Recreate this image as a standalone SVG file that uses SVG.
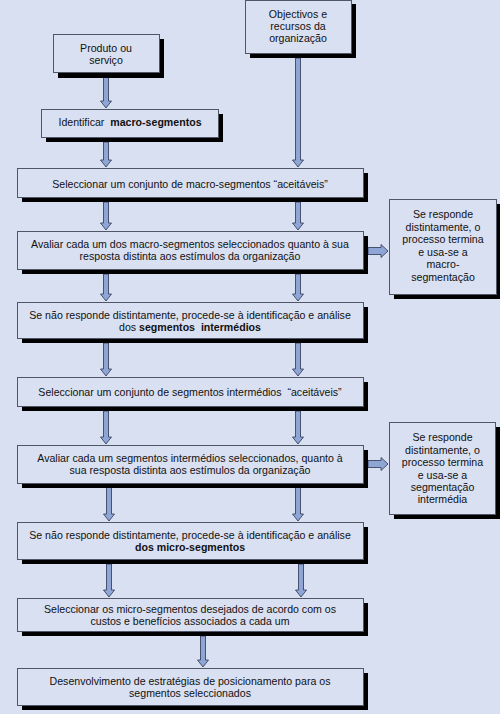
<svg xmlns="http://www.w3.org/2000/svg" width="500" height="714" viewBox="0 0 500 714">
<style>
.bg{fill:#D9E0F1}
.sh{fill:#000}
.bx{fill:#D9E0F1;stroke:#505666;stroke-width:1}
.t{font-family:"Liberation Sans",Arial,sans-serif;font-size:10.6px;fill:#111;text-anchor:middle;white-space:pre}
.b{font-weight:bold}
.ar{fill:#8FA5D5;stroke:#2B3550;stroke-width:0.8}
</style>
<rect class="bg" x="0" y="0" width="500" height="714"/>

<g id="connectors">
<path class="ar" d="M103.5,73 L108.5,73 L108.5,101 L111.5,101 L106,108 L100.5,101 L103.5,101 Z"/>
<path class="ar" d="M295.5,58 L300.5,58 L300.5,160 L303.5,160 L298,167 L292.5,160 L295.5,160 Z"/>
<path class="ar" d="M103.5,142 L108.5,142 L108.5,160 L111.5,160 L106,167 L100.5,160 L103.5,160 Z"/>
<path class="ar" d="M103.5,202 L108.5,202 L108.5,223 L111.5,223 L106,230 L100.5,223 L103.5,223 Z"/>
<path class="ar" d="M295.5,202 L300.5,202 L300.5,223 L303.5,223 L298,230 L292.5,223 L295.5,223 Z"/>
<path class="ar" d="M368,247.5 L381,247.5 L381,244.5 L388,251 L381,257.5 L381,254.5 L368,254.5 Z"/>
<path class="ar" d="M103.5,274 L108.5,274 L108.5,294 L111.5,294 L106,301 L100.5,294 L103.5,294 Z"/>
<path class="ar" d="M295.5,274 L300.5,274 L300.5,294 L303.5,294 L298,301 L292.5,294 L295.5,294 Z"/>
<path class="ar" d="M103.5,343 L108.5,343 L108.5,369 L111.5,369 L106,376 L100.5,369 L103.5,369 Z"/>
<path class="ar" d="M295.5,343 L300.5,343 L300.5,369 L303.5,369 L298,376 L292.5,369 L295.5,369 Z"/>
<path class="ar" d="M103.5,411 L108.5,411 L108.5,437 L111.5,437 L106,444 L100.5,437 L103.5,437 Z"/>
<path class="ar" d="M295.5,411 L300.5,411 L300.5,437 L303.5,437 L298,444 L292.5,437 L295.5,437 Z"/>
<path class="ar" d="M368,460.5 L381,460.5 L381,457.5 L388,464 L381,470.5 L381,467.5 L368,467.5 Z"/>
<path class="ar" d="M106.5,487 L111.5,487 L111.5,514 L114.5,514 L109,521 L103.5,514 L106.5,514 Z"/>
<path class="ar" d="M295.5,487 L300.5,487 L300.5,514 L303.5,514 L298,521 L292.5,514 L295.5,514 Z"/>
<path class="ar" d="M106.5,564 L111.5,564 L111.5,590 L114.5,590 L109,597 L103.5,590 L106.5,590 Z"/>
<path class="ar" d="M298.5,564 L303.5,564 L303.5,590 L306.5,590 L301,597 L295.5,590 L298.5,590 Z"/>
<path class="ar" d="M200.5,636 L205.5,636 L205.5,660 L208.5,660 L203,667 L197.5,660 L200.5,660 Z"/>
</g>

<g id="produto">
<rect class="sh" x="58" y="39" width="106" height="39"/>
<rect class="bx" x="53.5" y="34.5" width="106" height="38"/>
<text class="t" x="106" y="52">Produto ou</text>
<text class="t" x="106" y="64">serviço</text>
</g>

<g id="objectivos">
<rect class="sh" x="250" y="4" width="106" height="54"/>
<rect class="bx" x="245.5" y="0.5" width="106" height="53"/>
<text class="t" x="298" y="17.5">Objectivos e</text>
<text class="t" x="298" y="29.5">recursos da</text>
<text class="t" x="298" y="41.5">organização</text>
</g>

<g id="identificar">
<rect class="sh" x="46" y="114" width="177" height="28"/>
<rect class="bx" x="41.5" y="109.5" width="177" height="28"/>
<text class="t" x="130" y="126">Identificar  <tspan class="b">macro-segmentos</tspan></text>
</g>

<g id="sel-macro">
<rect class="sh" x="22" y="173" width="346" height="29"/>
<rect class="bx" x="17.5" y="168.5" width="346" height="29"/>
<text class="t" x="190" y="188">Seleccionar um conjunto de macro-segmentos “aceitáveis”</text>
</g>

<g id="aval-macro">
<rect class="sh" x="22" y="236" width="346" height="38"/>
<rect class="bx" x="17.5" y="231.5" width="346" height="38"/>
<text class="t" x="190" y="248">Avaliar cada um dos macro-segmentos seleccionados quanto à sua</text>
<text class="t" x="190" y="260">resposta distinta aos estímulos da organização</text>
</g>

<g id="fim-macro">
<rect class="sh" x="394" y="204" width="107" height="95"/>
<rect class="bx" x="389.5" y="199.5" width="107" height="95"/>
<text class="t" x="443" y="218">Se responde</text>
<text class="t" x="443" y="230.5">distintamente, o</text>
<text class="t" x="443" y="243">processo termina</text>
<text class="t" x="443" y="255.5">e usa-se a</text>
<text class="t" x="443" y="268">macro-</text>
<text class="t" x="443" y="280.5">segmentação</text>
</g>

<g id="nao-macro">
<rect class="sh" x="22" y="307" width="346" height="36"/>
<rect class="bx" x="17.5" y="302.5" width="346" height="36"/>
<text class="t" x="190" y="318.5">Se não responde distintamente, procede-se à identificação e análise</text>
<text class="t" x="190" y="330.5">dos <tspan class="b">segmentos  intermédios</tspan></text>
</g>

<g id="sel-inter">
<rect class="sh" x="22" y="382" width="346" height="29"/>
<rect class="bx" x="17.5" y="377.5" width="346" height="29"/>
<text class="t" x="190" y="396">Seleccionar um conjunto de segmentos intermédios  “aceitáveis”</text>
</g>

<g id="aval-inter">
<rect class="sh" x="22" y="450" width="346" height="38"/>
<rect class="bx" x="17.5" y="445.5" width="346" height="38"/>
<text class="t" x="190" y="462">Avaliar cada um segmentos intermédios seleccionados, quanto à</text>
<text class="t" x="190" y="474">sua resposta distinta aos estímulos da organização</text>
</g>

<g id="fim-inter">
<rect class="sh" x="394" y="427" width="106" height="92"/>
<rect class="bx" x="389.5" y="422.5" width="106" height="92"/>
<text class="t" x="442.5" y="441">Se responde</text>
<text class="t" x="442.5" y="453.5">distintamente, o</text>
<text class="t" x="442.5" y="466">processo termina</text>
<text class="t" x="442.5" y="478.5">e usa-se a</text>
<text class="t" x="442.5" y="490.5">segmentação</text>
<text class="t" x="442.5" y="503">intermédia</text>
</g>

<g id="nao-inter">
<rect class="sh" x="22" y="527" width="346" height="37"/>
<rect class="bx" x="17.5" y="522.5" width="346" height="37"/>
<text class="t" x="190" y="538.5">Se não responde distintamente, procede-se à identificação e análise</text>
<text class="t b" x="190" y="551">dos micro-segmentos</text>
</g>

<g id="sel-micro">
<rect class="sh" x="22" y="603" width="346" height="33"/>
<rect class="bx" x="17.5" y="598.5" width="346" height="33"/>
<text class="t" x="190" y="613">Seleccionar os micro-segmentos desejados de acordo com os</text>
<text class="t" x="190" y="625">custos e benefícios associados a cada um</text>
</g>

<g id="desenvolvimento">
<rect class="sh" x="22" y="673" width="346" height="37"/>
<rect class="bx" x="17.5" y="668.5" width="346" height="37"/>
<text class="t" x="190" y="685">Desenvolvimento de estratégias de posicionamento para os</text>
<text class="t" x="190" y="697">segmentos seleccionados</text>
</g>
</svg>
